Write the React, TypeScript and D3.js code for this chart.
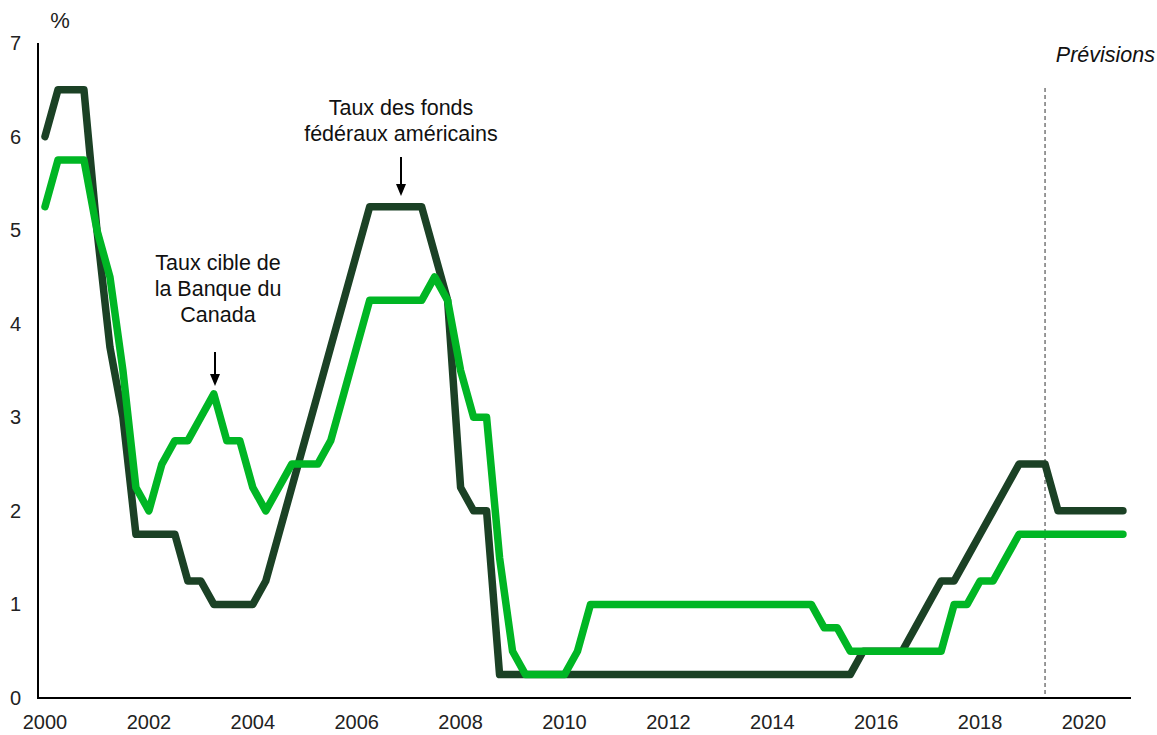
import React from "react";
import * as d3 from "d3";

// Quarterly series, 2000Q1 .. 2020Q4 (end-of-quarter policy rates, %)
const fedFunds: number[] = [
  6.0, 6.5, 6.5, 6.5, // 2000
  5.0, 3.75, 3.0, 1.75, // 2001
  1.75, 1.75, 1.75, 1.25, // 2002
  1.25, 1.0, 1.0, 1.0, // 2003
  1.0, 1.25, 1.75, 2.25, // 2004
  2.75, 3.25, 3.75, 4.25, // 2005
  4.75, 5.25, 5.25, 5.25, // 2006
  5.25, 5.25, 4.75, 4.25, // 2007
  2.25, 2.0, 2.0, 0.25, // 2008
  0.25, 0.25, 0.25, 0.25, // 2009
  0.25, 0.25, 0.25, 0.25, // 2010
  0.25, 0.25, 0.25, 0.25, // 2011
  0.25, 0.25, 0.25, 0.25, // 2012
  0.25, 0.25, 0.25, 0.25, // 2013
  0.25, 0.25, 0.25, 0.25, // 2014
  0.25, 0.25, 0.25, 0.5, // 2015
  0.5, 0.5, 0.5, 0.75, // 2016
  1.0, 1.25, 1.25, 1.5, // 2017
  1.75, 2.0, 2.25, 2.5, // 2018
  2.5, 2.5, 2.0, 2.0, // 2019
  2.0, 2.0, 2.0, 2.0, // 2020
];

const bankOfCanada: number[] = [
  5.25, 5.75, 5.75, 5.75, // 2000
  5.0, 4.5, 3.5, 2.25, // 2001
  2.0, 2.5, 2.75, 2.75, // 2002
  3.0, 3.25, 2.75, 2.75, // 2003
  2.25, 2.0, 2.25, 2.5, // 2004
  2.5, 2.5, 2.75, 3.25, // 2005
  3.75, 4.25, 4.25, 4.25, // 2006
  4.25, 4.25, 4.5, 4.25, // 2007
  3.5, 3.0, 3.0, 1.5, // 2008
  0.5, 0.25, 0.25, 0.25, // 2009
  0.25, 0.5, 1.0, 1.0, // 2010
  1.0, 1.0, 1.0, 1.0, // 2011
  1.0, 1.0, 1.0, 1.0, // 2012
  1.0, 1.0, 1.0, 1.0, // 2013
  1.0, 1.0, 1.0, 1.0, // 2014
  0.75, 0.75, 0.5, 0.5, // 2015
  0.5, 0.5, 0.5, 0.5, // 2016
  0.5, 0.5, 1.0, 1.0, // 2017
  1.25, 1.25, 1.5, 1.75, // 2018
  1.75, 1.75, 1.75, 1.75, // 2019
  1.75, 1.75, 1.75, 1.75, // 2020
];

const startYear = 2000;
const xTickYears = [2000, 2002, 2004, 2006, 2008, 2010, 2012, 2014, 2016, 2018, 2020];
const yTicks = [0, 1, 2, 3, 4, 5, 6, 7];
const forecastStart = 2019.25;

const W = 1157;
const H = 735;
const FONT = "'Liberation Sans', Arial, sans-serif";

export default function App() {
  const x = d3.scaleLinear().domain([2000, 2020]).range([45, 1084]);
  const y = d3.scaleLinear().domain([0, 7]).range([698, 43]);
  const axisLeft = 38;
  const axisRight = 1131;

  const toPts = (arr: number[]) => arr.map((v, i) => [startYear + i / 4, v] as [number, number]);
  const line = d3
    .line<[number, number]>()
    .x((d) => x(d[0]))
    .y((d) => y(d[1]));

  const fx = x(forecastStart);

  return (
    <svg
      width={W}
      height={H}
      style={{ position: "absolute", left: 0, top: 0, background: "#fff" }}
      fontFamily={FONT}
    >
      {/* y tick labels */}
      {yTicks.map((t) => (
        <text key={t} x={21} y={y(t) + 7} fontSize={20} textAnchor="end" fill="#222">
          {t}
        </text>
      ))}
      <text x={60} y={28} fontSize={22} textAnchor="middle" fill="#222">%</text>

      {/* x tick labels */}
      {xTickYears.map((t) => (
        <text key={t} x={x(t)} y={729} fontSize={20} textAnchor="middle" fill="#222">
          {t}
        </text>
      ))}

      {/* forecast line */}
      <line x1={fx} x2={fx} y1={88} y2={698} stroke="#555" strokeWidth={1.2} strokeDasharray="4,3" />
      <text x={1155} y={62} fontSize={21.5} fontStyle="italic" textAnchor="end" fill="#111">
        Prévisions
      </text>

      {/* series */}
      <path
        d={line(toPts(fedFunds)) || ""}
        fill="none"
        stroke="#1b4125"
        strokeWidth={7.5}
        strokeLinejoin="round"
        strokeLinecap="round"
      />
      <path
        d={line(toPts(bankOfCanada)) || ""}
        fill="none"
        stroke="#00b624"
        strokeWidth={7.5}
        strokeLinejoin="round"
        strokeLinecap="round"
      />

      {/* axes */}
      <line x1={axisLeft} x2={axisLeft} y1={43} y2={699} stroke="#000" strokeWidth={2} />
      <line x1={axisLeft - 1} x2={axisRight} y1={698} y2={698} stroke="#000" strokeWidth={2} />

      {/* annotations */}
      <g fontSize={21.5} textAnchor="middle" fill="#111">
        <text x={218} y={270}>Taux cible de</text>
        <text x={218} y={296}>la Banque du</text>
        <text x={218} y={322}>Canada</text>
        <text x={401} y={115}>Taux des fonds</text>
        <text x={401} y={141}>fédéraux américains</text>
      </g>
      <line x1={215} x2={215} y1={352} y2={378} stroke="#000" strokeWidth={2} />
      <path d="M210,374 L220,374 L215,386 Z" fill="#000" />
      <line x1={401} x2={401} y1={157} y2={188} stroke="#000" strokeWidth={2} />
      <path d="M396,184 L406,184 L401,196 Z" fill="#000" />
    </svg>
  );
}
